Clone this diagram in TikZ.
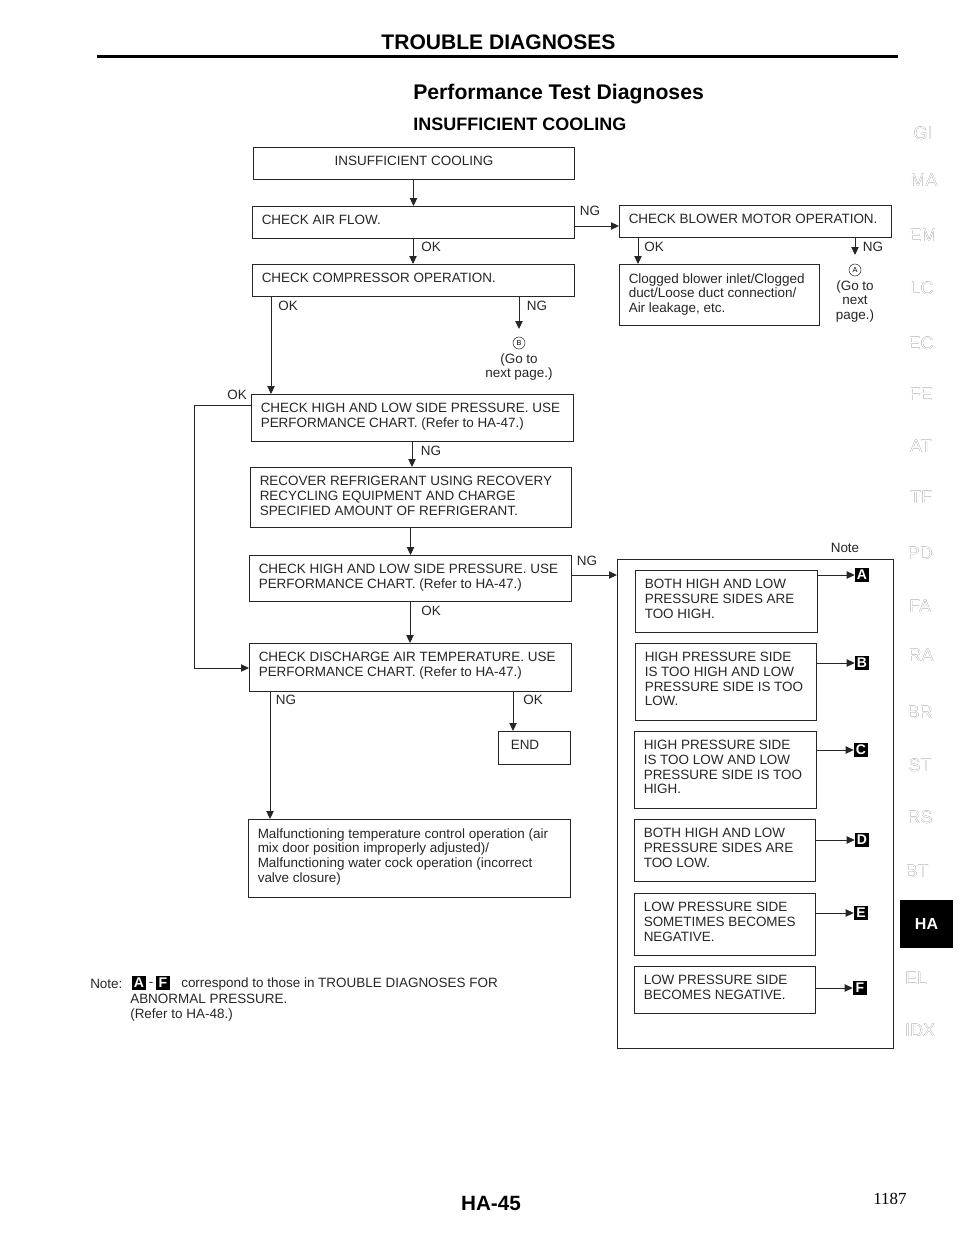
\documentclass[tikz,border=0pt]{standalone}
\usepackage{fontspec}
\usepackage[outline]{contour}
\setmainfont{Liberation Sans}
\newfontfamily\pagenofont{Liberation Serif}
\usetikzlibrary{arrows.meta}
\contourlength{0.35pt}
\tikzset{
  flowbox/.style={draw=black!85, line width=0.7pt, outer sep=0pt, inner sep=0pt},
  boxtext/.style={font=\fontsize{10.1}{11}\selectfont, align=left, inner sep=0pt, text=black!85},
  flowtag/.style={font=\fontsize{10.1}{11}\selectfont, inner sep=0pt, text=black!85},
  flow/.style={line width=0.7pt, draw=black!85, -{Triangle[length=6pt,width=5.5pt]}},
  noarrow/.style={line width=0.7pt, draw=black!85},
  lettertag/.style={fill=black, text=white, font=\fontsize{10.5}{10}\bfseries\selectfont, inner sep=0pt, minimum size=10.5pt},
  gotag/.style={draw=black!85, circle, line width=0.4pt, inner sep=0pt, minimum size=9pt, font=\fontsize{5.5}{6}\selectfont},
  sidetab/.style={font=\fontsize{13.5}{14}\selectfont, inner sep=0pt},
}
\newcommand*{\FlowBox}[6]{% #1 = name, #2-#5 = x1/y1/x2/y2, #6 = text
\node [flowbox, minimum width={(#4-#2)*0.75pt}, minimum height={(#5-#3)*0.75pt}]
(#1) at ({(#2+#4)/2},{(#3+#5)/2}) {};
\node [boxtext, anchor=north west] (#1text) at (#2+9.5,#3+9) {#6};
}
\begin{document}
\begin{tikzpicture}[x=0.75pt,y=-0.75pt]
\useasboundingbox (0,0) rectangle (960,1242);

% page heading
\node [inner sep=0pt, font=\fontsize{15.8}{18}\bfseries\selectfont] (heading) at (498.5,42) {TROUBLE DIAGNOSES};
\coordinate (ruleleft) at (97,56.5);
\coordinate (ruleright) at (898,56.5);
\draw [line width=2.4pt] (ruleleft) -- (ruleright);
\node [inner sep=0pt, anchor=west, font=\fontsize{15.9}{16}\bfseries\selectfont] (title) at (413,94) {Performance Test Diagnoses};
\node [inner sep=0pt, anchor=west, font=\fontsize{13.5}{14}\bfseries\selectfont] (subtitle) at (413,124) {INSUFFICIENT COOLING};

% left column
\FlowBox{insuff}{253}{147}{574}{179}{}
\node [flowtag] (insuffname) at (414,161) {INSUFFICIENT COOLING};
\FlowBox{airflow}{252}{206}{574}{238}{CHECK AIR FLOW.}
\FlowBox{compressor}{252}{264}{574}{296}{CHECK COMPRESSOR OPERATION.}
\FlowBox{sideone}{251}{394}{573}{441}{CHECK HIGH AND LOW SIDE PRESSURE. USE\\PERFORMANCE CHART. (Refer to HA-47.)}
\FlowBox{recover}{250}{467}{571}{527}{RECOVER REFRIGERANT USING RECOVERY\\RECYCLING EQUIPMENT AND CHARGE\\SPECIFIED AMOUNT OF REFRIGERANT.}
\FlowBox{sidetwo}{249}{555}{571}{601}{CHECK HIGH AND LOW SIDE PRESSURE. USE\\PERFORMANCE CHART. (Refer to HA-47.)}
\FlowBox{discharge}{249}{643}{571}{691}{CHECK DISCHARGE AIR TEMPERATURE. USE\\PERFORMANCE CHART. (Refer to HA-47.)}
\FlowBox{finish}{498}{731}{570}{764}{}
\node [flowtag] (finishname) at (525,745) {END};
\FlowBox{malfunction}{248}{819}{570}{897}{Malfunctioning temperature control operation (air\\mix door position improperly adjusted)/\\Malfunctioning water cock operation (incorrect\\valve closure)}

% right column
\FlowBox{blower}{619}{205}{891}{237}{CHECK BLOWER MOTOR OPERATION.}
\FlowBox{clogged}{619}{264}{819}{325}{Clogged blower inlet/Clogged\\duct/Loose duct connection/\\Air leakage, etc.}
\FlowBox{group}{617}{559}{893}{1048}{}
\FlowBox{casea}{635}{570}{817}{632}{BOTH HIGH AND LOW\\PRESSURE SIDES ARE\\TOO HIGH.}
\FlowBox{caseb}{635}{643}{816}{720}{HIGH PRESSURE SIDE\\IS TOO HIGH AND LOW\\PRESSURE SIDE IS TOO\\LOW.}
\FlowBox{casec}{634}{731}{816}{808}{HIGH PRESSURE SIDE\\IS TOO LOW AND LOW\\PRESSURE SIDE IS TOO\\HIGH.}
\FlowBox{cased}{634}{819}{815}{881}{BOTH HIGH AND LOW\\PRESSURE SIDES ARE\\TOO LOW.}
\FlowBox{casee}{634}{893}{815}{955}{LOW PRESSURE SIDE\\SOMETIMES BECOMES\\NEGATIVE.}
\FlowBox{casef}{634}{966}{815}{1013}{LOW PRESSURE SIDE\\BECOMES NEGATIVE.}

% letters A-F
\node [flowtag] (notehead) at (845,548) {Note};
\foreach \name/\x/\y/\letter in {a/862/575/A,b/862/663/B,c/861/750/C,d/862/840/D,e/861/913/E,f/860/988/F} {
\node [lettertag] (tag\name) at (\x,\y) {\letter};
\draw [flow] (case\name.east |- tag\name.west) -- (tag\name.west);
}

% go to next page
\node [gotag] (gob) at (519,343) {B};
\node [flowtag, align=center, below=0pt] (gobtext) at (519,353) {(Go to\\next page.)};
\node [gotag] (goa) at (855,270) {A};
\node [flowtag, align=center, below=0pt] (goatext) at (855,280) {(Go to\\next\\page.)};

% connectors
\coordinate (compok) at (271,296);
\coordinate (compng) at (519,296);
\coordinate (compngend) at (519,329);
\coordinate (blowerok) at (638,237);
\coordinate (blowerng) at (855,237);
\coordinate (blowerngend) at (855,255);
\coordinate (dischng) at (270,691);
\coordinate (dischok) at (513,691);
\coordinate (sideonekink) at (194,405);
\coordinate (sideonedown) at (194,668);
\coordinate (airout) at (574,226);
\coordinate (sidetwoout) at (571,575);
\draw [flow] (insuff.south) -- (insuff.south |- airflow.north);
\draw [flow] (airflow.south) -- (airflow.south |- compressor.north);
\draw [flow] (compok) -- (compok |- sideone.north);
\draw [flow] (compng) -- (compngend);
\draw [flow] (sideone.south) -- (sideone.south |- recover.north);
\draw [flow] (recover.south) -- (recover.south |- sidetwo.north);
\draw [flow] (sidetwo.south) -- (sidetwo.south |- discharge.north);
\draw [flow] (dischok) -- (dischok |- finish.north);
\draw [flow] (dischng) -- (dischng |- malfunction.north);
\draw [flow] (airout) -- (airout -| blower.west);
\draw [flow] (blowerok) -- (blowerok |- clogged.north);
\draw [flow] (blowerng) -- (blowerngend);
\draw [flow] (sidetwoout) -- (sidetwoout -| group.west);
\draw [noarrow] (sideonekink -| sideone.west) -- (sideonekink) -- (sideonedown);
\draw [flow] (sideonedown) -- (sideonedown -| discharge.west);

% branch labels
\foreach \name/\x/\y/\text in {okone/431/247/OK,oktwo/288/306/OK,ngone/537/306/NG,okthree/237/395/OK,ngtwo/431/451/NG,okfour/431/611/OK,ngthree/286/700/NG,okfive/533/700/OK,ngfour/590/211/NG,oksix/654/247/OK,ngfive/873/247/NG,ngsix/587/561/NG} {
\node [flowtag] (\name) at (\x,\y) {\text};
}

% note
\node [flowtag, anchor=west] (notelabel) at (90,984) {Note:};
\node [lettertag] (notea) at (139,983) {A};
\node [flowtag] (notedash) at (151,984) {-};
\node [lettertag] (notef) at (163,983) {F};
\node [flowtag, anchor=west] (noteone) at (181,984) {correspond to those in TROUBLE DIAGNOSES FOR};
\node [boxtext, anchor=north west] (notetwo) at (130,994) {ABNORMAL PRESSURE.\\(Refer to HA-48.)};

% side tabs
\foreach \text/\x/\y in {GI/923/133,MA/924/180,EM/923/235,LC/922/288,EC/921/343,FE/921/394,AT/921/446,TF/921/497,PD/920/553,FA/920/606,RA/921/655,BR/920/712,ST/920/765,RS/920/817,BT/917/871,EL/916/978,IDX/920/1030} {
\node [sidetab, text=white] (tab\text) at (\x,\y) {\contour{black!80}{\text}};
}
\node [fill=black, text=white, font=\fontsize{12}{12}\bfseries\selectfont, inner sep=0pt, minimum width=40pt, minimum height=36pt] (tabHA) at (926.5,924) {HA};

% page number
\node [inner sep=0pt, font=\fontsize{15.5}{16}\bfseries\selectfont] (pagename) at (491,1203) {HA-45};
\node [inner sep=0pt, font=\pagenofont\fontsize{12.7}{14}\selectfont] (pageno) at (890,1199) {1187};
\end{tikzpicture}
\end{document}
